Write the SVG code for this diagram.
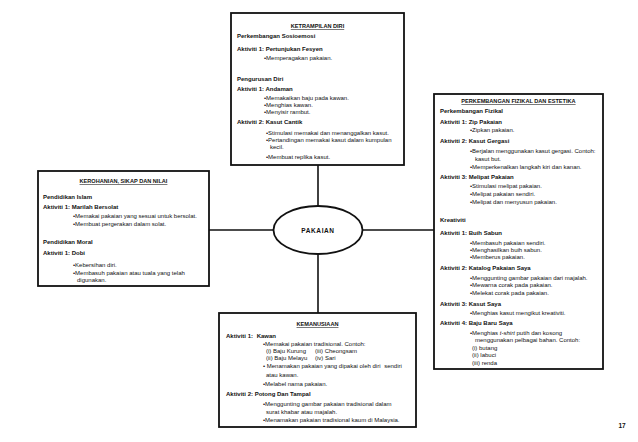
<svg xmlns="http://www.w3.org/2000/svg" width="638" height="442" viewBox="0 0 638 442">
<style>
text{font-family:"Liberation Sans",Arial,sans-serif;font-size:6px;fill:#111}
.b{font-weight:bold}
.t{font-weight:bold;font-size:5.6px;text-decoration:underline;text-anchor:middle}
.box{fill:#fff;stroke:#111;stroke-width:1.8}
.c{stroke:#111;stroke-width:1.6;fill:none}
</style>
<rect width="638" height="442" fill="#fff"/>
<g id="connectors">
<line class="c" x1="318" y1="165" x2="318" y2="206"/>
<line class="c" x1="318" y1="254" x2="318" y2="313"/>
<line class="c" x1="209" y1="230" x2="273.5" y2="230"/>
<line class="c" x1="362.5" y1="230" x2="434" y2="230"/>
</g>
<g id="pakaian">
<ellipse cx="318" cy="230" rx="44.5" ry="24" class="box"/>
<text x="318" y="232.5" class="b" style="font-size:6.5px;letter-spacing:0.6px" text-anchor="middle">PAKAIAN</text>
</g>
<g id="ketrampilan-diri">
<rect x="231" y="13" width="173" height="152" class="box"/>
<text x="317.5" y="28" class="t">KETRAMPILAN DIRI</text>
<text x="237" y="38" class="b">Perkembangan Sosioemosi</text>
<text x="237" y="51" class="b">Aktiviti 1: Pertunjukan Fesyen</text>
<text x="264" y="60">•Memperagakan pakaian.</text>
<text x="237" y="81" class="b">Pengurusan Diri</text>
<text x="237" y="91" class="b">Aktiviti 1: Andaman</text>
<text x="264" y="100">•Memakaikan baju pada kawan.</text>
<text x="264" y="107">•Menghias kawan.</text>
<text x="264" y="114">•Menyisir rambut.</text>
<text x="237" y="124" class="b">Aktiviti 2: Kasut Cantik</text>
<text x="266" y="135">•Stimulasi memakai dan menanggalkan kasut.</text>
<text x="266" y="142">•Pertandingan memakai kasut dalam kumpulan</text>
<text x="270" y="149">kecil.</text>
<text x="266" y="159">•Membuat replika kasut.</text>
</g>
<g id="kerohanian">
<rect x="38" y="171" width="171" height="115" class="box"/>
<text x="123.5" y="183" class="t">KEROHANIAN, SIKAP DAN NILAI</text>
<text x="43" y="199" class="b">Pendidikan Islam</text>
<text x="43" y="209" class="b">Aktiviti 1: Marilah Bersolat</text>
<text x="73" y="218">•Memakai pakaian yang sesuai untuk bersolat.</text>
<text x="73" y="226">•Membuat pergerakan dalam solat.</text>
<text x="43" y="244" class="b">Pendidikan Moral</text>
<text x="43" y="255" class="b">Aktiviti 1: Dobi</text>
<text x="73" y="267">•Kebersihan diri.</text>
<text x="73" y="275">•Membasuh pakaian atau tuala yang telah</text>
<text x="77" y="282">digunakan.</text>
</g>
<g id="fizikal-estetika">
<rect x="434" y="94" width="169" height="275" class="box"/>
<text x="518.5" y="103" class="t">PERKEMBANGAN FIZIKAL DAN ESTETIKA</text>
<text x="440" y="113" class="b">Perkembangan Fizikal</text>
<text x="440" y="124" class="b">Aktiviti 1: Zip Pakaian</text>
<text x="470" y="132">•Zipkan pakaian.</text>
<text x="440" y="143" class="b">Aktiviti 2: Kasut Gergasi</text>
<text x="470" y="153">•Berjalan menggunakan kasut gergasi. Contoh:</text>
<text x="475" y="161">kasut but.</text>
<text x="470" y="169">•Memperkenalkan langkah kiri dan kanan.</text>
<text x="440" y="179" class="b">Aktiviti 3: Melipat Pakaian</text>
<text x="470" y="188">•Stimulasi melipat pakaian.</text>
<text x="470" y="196">•Melipat pakaian sendiri.</text>
<text x="470" y="204">•Melipat dan menyusun pakaian.</text>
<text x="440" y="222" class="b">Kreativiti</text>
<text x="440" y="235" class="b">Aktiviti 1: Buih Sabun</text>
<text x="470" y="245">•Membasuh pakaian sendiri.</text>
<text x="470" y="251.5">•Menghasilkan buih sabun.</text>
<text x="470" y="259">•Memberus pakaian.</text>
<text x="440" y="270" class="b">Aktiviti 2: Katalog Pakaian Saya</text>
<text x="470" y="280">•Menggunting gambar pakaian dari majalah.</text>
<text x="470" y="287">•Mewarna corak pada pakaian.</text>
<text x="470" y="295">•Melekat corak pada pakaian.</text>
<text x="440" y="306" class="b">Aktiviti 3: Kasut Saya</text>
<text x="470" y="315">•Menghias kasut mengikut kreativiti.</text>
<text x="440" y="325" class="b">Aktiviti 4: Baju Baru Saya</text>
<text x="470" y="335">•Menghias <tspan font-style="italic">t-shirt</tspan> putih dan kosong</text>
<text x="475" y="342">menggunakan pelbagai bahan. Contoh:</text>
<text x="472" y="350">(i) butang</text>
<text x="472" y="357">(ii) labuci</text>
<text x="472" y="365">(iii) renda</text>
</g>
<g id="kemanusiaan">
<rect x="219" y="313" width="197" height="114" class="box"/>
<text x="317.5" y="326" class="t">KEMANUSIAAN</text>
<text x="226" y="338" class="b">Aktiviti 1: <tspan dx="2">Kawan</tspan></text>
<text x="263" y="346">•Memakai pakaian tradisional. Contoh:</text>
<text x="266" y="353">(i) Baju Kurung</text>
<text x="315" y="353">(iii) Cheongsam</text>
<text x="266" y="360">(ii) Baju Melayu</text>
<text x="315" y="360">(iv) Sari</text>
<text x="263" y="368">• Menamakan pakaian yang dipakai oleh diri <tspan dx="2">sendiri</tspan></text>
<text x="266" y="377">atau kawan.</text>
<text x="263" y="386">•Melabel nama pakaian.</text>
<text x="226" y="396" class="b">Aktiviti 2: Potong Dan Tampal</text>
<text x="263" y="406">•Menggunting gambar pakaian tradisional dalam</text>
<text x="266" y="414">surat khabar atau majalah.</text>
<text x="263" y="422">•Menamakan pakaian tradisional kaum di Malaysia.</text>
</g>
<text x="622" y="428" class="b" style="font-size:6.5px" text-anchor="middle">17</text>
</svg>
